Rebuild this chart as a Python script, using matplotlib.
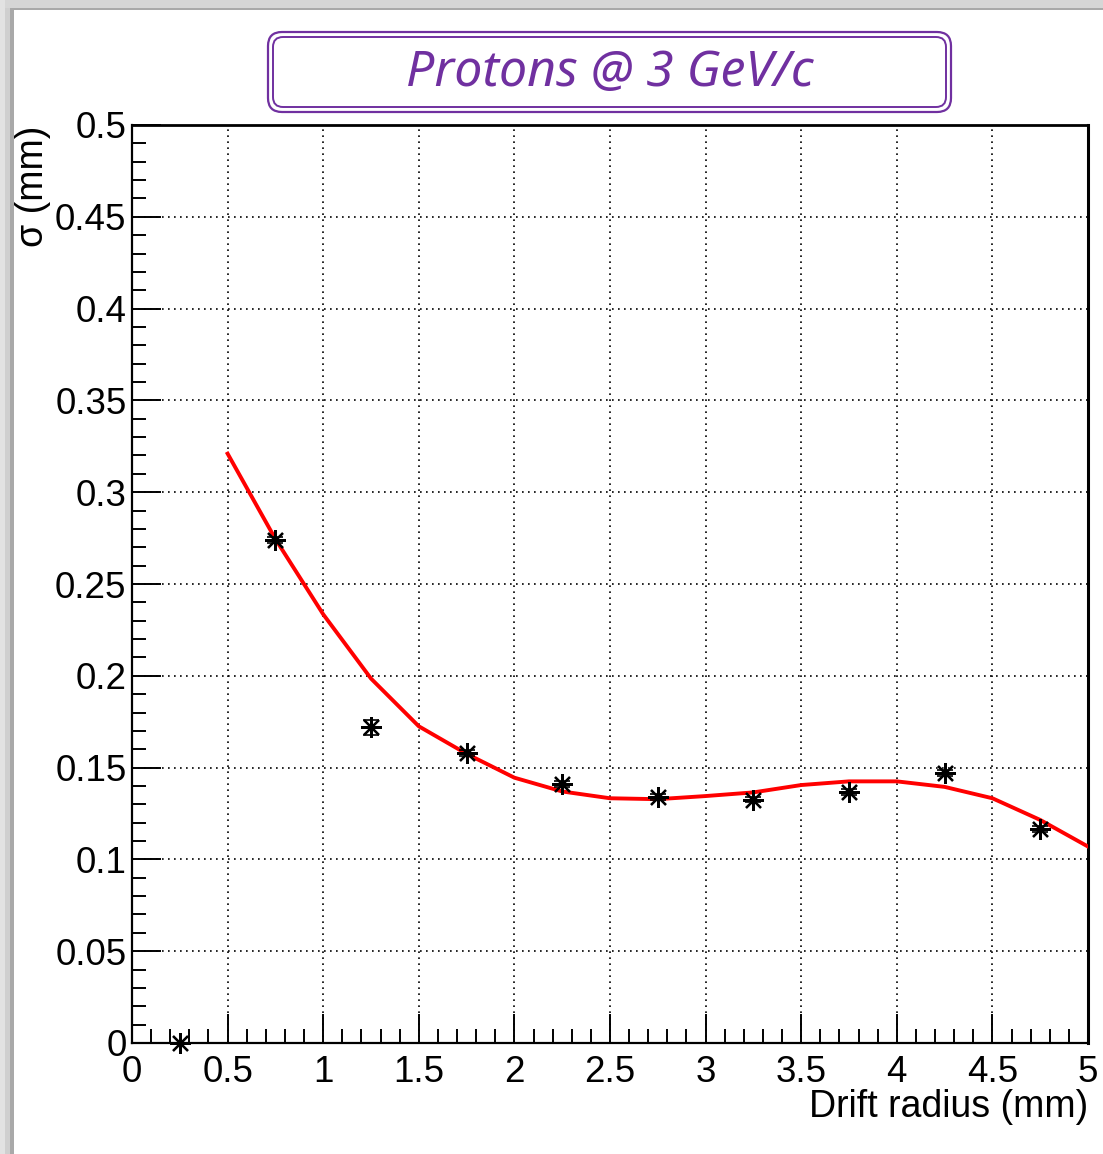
import matplotlib
matplotlib.use('Agg')
import matplotlib.pyplot as plt
from matplotlib.patches import FancyBboxPatch, Rectangle
from matplotlib.transforms import IdentityTransform
from matplotlib.ticker import MultipleLocator

plt.rcParams['font.family'] = ['Liberation Sans', 'DejaVu Sans']

# measured resolution per drift radius bin
drift_radius = [0.25, 0.75, 1.25, 1.75, 2.25, 2.75, 3.25, 3.75, 4.25, 4.75]
sigma = [0.0, 0.274, 0.172, 0.158, 0.141, 0.134, 0.1325, 0.1367, 0.147, 0.1166]
sigma_err = [0.0, 0.0015, 0.004, 0.0015, 0.0015, 0.0015, 0.0015, 0.0015, 0.0015, 0.0015]

# red fit curve
fit_x = [0.5, 0.75, 1.0, 1.25, 1.5, 1.75, 2.0, 2.25, 2.5, 2.75,
         3.0, 3.25, 3.5, 3.75, 4.0, 4.25, 4.5, 4.75, 5.0]
fit_sigma = [0.321, 0.2745, 0.2335, 0.1985, 0.1725, 0.1575, 0.1445, 0.137, 0.1333, 0.1328,
             0.1345, 0.1365, 0.1405, 0.1425, 0.1425, 0.1395, 0.1333, 0.1215, 0.107]

title = 'Protons @ 3 GeV/c'
purple = '#7030a0'

W, H = 1103, 1154
fig = plt.figure(figsize=(W / 100, H / 100), dpi=100)
fig.patch.set_facecolor('white')

# grey screenshot edges (top and left)
px = IdentityTransform()
fig.add_artist(Rectangle((0, H - 10), W, 10, transform=px, color='#d6d6d6', lw=0))
fig.add_artist(Rectangle((0, H - 10), W, 2.5, transform=px, color='#a9a9a9', lw=0))
fig.add_artist(Rectangle((0, 0), 5, H, transform=px, color='#e2e2e2', lw=0))
fig.add_artist(Rectangle((5, 0), 5, H - 8, transform=px, color='#cfcfcf', lw=0))
fig.add_artist(Rectangle((10, 0), 3.5, H - 8, transform=px, color='#a9a9a9', lw=0))

# title box with double rounded border
fig.add_artist(FancyBboxPatch((268, H - 112), 683, 80, transform=px,
                              boxstyle='round,pad=0,rounding_size=14',
                              fc='white', ec=purple, lw=1.6))
fig.add_artist(FancyBboxPatch((273, H - 107), 673, 70, transform=px,
                              boxstyle='round,pad=0,rounding_size=10',
                              fc='none', ec=purple, lw=1.4))
fig.text(610 / W, 1 - 73 / H, title, ha='center', va='center', color=purple,
         fontsize=36, style='italic', weight='semibold', family='Noto Sans')

ax = fig.add_axes([132 / W, 1 - 1043 / H, 956 / W, 918 / H])
ax.set_xlim(0, 5)
ax.set_ylim(0, 0.5)

ax.xaxis.set_major_locator(MultipleLocator(0.5))
ax.xaxis.set_minor_locator(MultipleLocator(0.1))
ax.yaxis.set_major_locator(MultipleLocator(0.05))
ax.yaxis.set_minor_locator(MultipleLocator(0.01))
ax.set_xticks([0, 0.5, 1, 1.5, 2, 2.5, 3, 3.5, 4, 4.5, 5])
ax.set_xticklabels(['0', '0.5', '1', '1.5', '2', '2.5', '3', '3.5', '4', '4.5', '5'])
ax.set_yticks([0, 0.05, 0.1, 0.15, 0.2, 0.25, 0.3, 0.35, 0.4, 0.45, 0.5])
ax.set_yticklabels(['0', '0.05', '0.1', '0.15', '0.2', '0.25', '0.3', '0.35', '0.4', '0.45', '0.5'])

ax.tick_params(which='both', direction='in', top=False, right=False, color='black')
ax.tick_params(which='major', length=21, width=1.4, labelsize=26.5)
ax.tick_params(which='minor', length=10, width=1.4)
ax.tick_params(axis='x', which='major', pad=9)
ax.tick_params(axis='y', which='major', pad=4)

for s in ax.spines.values():
    s.set_linewidth(1.6)
    s.set_color('black')
ax.spines['right'].set_linewidth(2.2)
ax.spines['top'].set_linewidth(2.0)

ax.grid(True, which='major', color='black', linestyle=(0, (1, 2.6)), linewidth=1.2)
ax.set_axisbelow(True)

ax.plot(fit_x, fit_sigma, color='#ff0000', lw=2.8, zorder=3,
        solid_joinstyle='round')
ax.errorbar(drift_radius, sigma, yerr=sigma_err, fmt='none', ecolor='black',
            elinewidth=1.2, capsize=6, capthick=1.2, zorder=4, clip_on=False)
ax.plot(drift_radius, sigma, linestyle='none', marker=(8, 2, 0), markersize=15,
        markeredgewidth=1.6, color='black', zorder=5, clip_on=False)

ax.set_xlabel('Drift radius (mm)', fontsize=27, ha='right')
ax.xaxis.set_label_coords(1.0, -0.05, transform=ax.transAxes)
ax.xaxis.label.set_va('top')
fig.text(33 / W, 1 - 126 / H, 'σ (mm)', rotation=90, ha='center', va='top', fontsize=27)

fig.savefig('out.png', dpi=100)
